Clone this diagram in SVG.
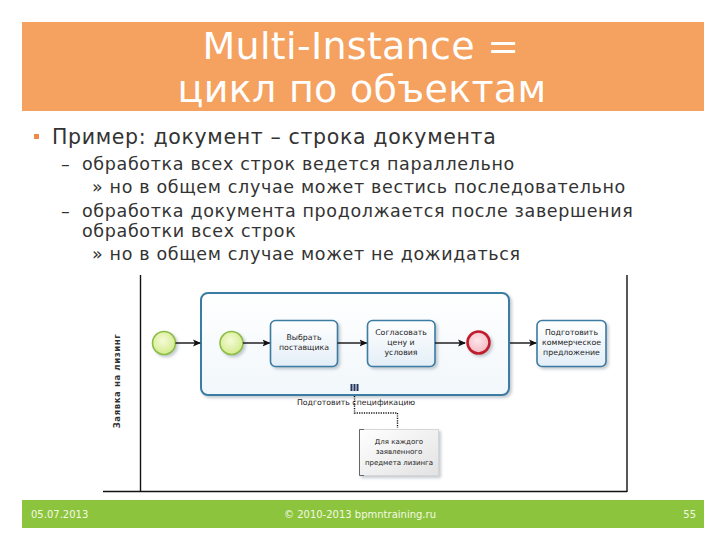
<svg xmlns="http://www.w3.org/2000/svg" width="720" height="540" viewBox="0 0 720 540">
<defs>
<linearGradient id="taskG" x1="0" y1="0" x2="0" y2="1"><stop offset="0" stop-color="#ffffff"/><stop offset="1" stop-color="#e4eef7"/></linearGradient>
<linearGradient id="subG" x1="0" y1="0" x2="0" y2="1"><stop offset="0" stop-color="#ffffff"/><stop offset="1" stop-color="#f1f7fb"/></linearGradient>
<radialGradient id="startG" cx="0.45" cy="0.4" r="0.6"><stop offset="0" stop-color="#f4fbd8"/><stop offset="1" stop-color="#d4eb8c"/></radialGradient>
<radialGradient id="endG" cx="0.45" cy="0.4" r="0.6"><stop offset="0" stop-color="#fde6ea"/><stop offset="1" stop-color="#f5b9c4"/></radialGradient>
<linearGradient id="annG" x1="0" y1="0" x2="1" y2="1"><stop offset="0" stop-color="#ffffff"/><stop offset="1" stop-color="#e2e2e2"/></linearGradient>
<filter id="sh" x="-20%" y="-20%" width="150%" height="150%"><feDropShadow dx="2" dy="2" stdDeviation="1.6" flood-color="#7a8a96" flood-opacity="0.45"/></filter>
<marker id="arr" markerWidth="8" markerHeight="8" refX="7" refY="4" orient="auto" markerUnits="userSpaceOnUse"><path d="M0,0.5 L8,4 L0,7.5 L1.8,4 Z" fill="#111"/></marker>
<style>
.title{font-family:"DejaVu Sans",Verdana,sans-serif;font-size:38px;fill:#ffffff;text-anchor:middle;letter-spacing:0.3px}
.b1{font-family:"DejaVu Sans",Verdana,sans-serif;font-size:20.5px;fill:#333333;letter-spacing:0.65px}
.b2{font-family:"DejaVu Sans",Verdana,sans-serif;font-size:17.5px;fill:#333333;letter-spacing:0.65px}
.foot{font-family:"DejaVu Sans",Verdana,sans-serif;font-size:10px;fill:#f4f9e4}
.tl{font-family:"DejaVu Sans",Tahoma,sans-serif;font-size:7.8px;fill:#222;text-anchor:middle}
.an{font-family:"DejaVu Sans",Tahoma,sans-serif;font-size:7px;fill:#222;text-anchor:middle}
.task{fill:url(#taskG);stroke:#3b7ba3;stroke-width:1.6}
.start{fill:url(#startG);stroke:#8dbd45;stroke-width:1.6}
.flow{fill:none;stroke:#111;stroke-width:1.4;marker-end:url(#arr)}
.pool{stroke:#111;stroke-width:1.4;fill:none}
</style>
</defs>
<rect x="0" y="0" width="720" height="540" fill="#ffffff"/>
<g id="header">
<rect x="22" y="22" width="682" height="89" fill="#f5a160"/>
<text class="title" x="361" y="59">Multi-Instance =</text>
<text class="title" x="362" y="102">цикл по объектам</text>
</g>
<g id="bullets">
<rect x="34" y="134" width="5" height="5" fill="#f08a4b"/>
<text class="b1" x="52" y="144">Пример: документ – строка документа</text>
<text class="b2" x="61" y="170">–</text>
<text class="b2" x="82" y="170">обработка всех строк ведется параллельно</text>
<text class="b2" x="92" y="193">» но в общем случае может вестись последовательно</text>
<text class="b2" x="61" y="217">–</text>
<text class="b2" x="82" y="217">обработка документа продолжается после завершения</text>
<text class="b2" x="82" y="237">обработки всех строк</text>
<text class="b2" x="92" y="260">» но в общем случае может не дожидаться</text>
</g>
<g id="pool">
<line class="pool" x1="140.5" y1="275" x2="140.5" y2="492"/>
<line class="pool" x1="627" y1="275" x2="627" y2="492"/>
<line class="pool" x1="103" y1="491.5" x2="627" y2="491.5"/>
<text transform="rotate(-90 120 381)" x="120" y="381" font-family="DejaVu Sans,Tahoma,sans-serif" font-size="8.5" font-weight="bold" fill="#333" text-anchor="middle" letter-spacing="0.6">Заявка на лизинг</text>
</g>
<g id="subprocess">
<rect x="201" y="293" width="308" height="102" rx="7" fill="url(#subG)" stroke="#3b7ba3" stroke-width="2" filter="url(#sh)"/>
<rect x="350.5" y="384" width="2" height="7" fill="#23365e"/>
<rect x="353.5" y="384" width="2" height="7" fill="#23365e"/>
<rect x="356.5" y="384" width="2" height="7" fill="#23365e"/>
<text class="tl" x="356" y="405">Подготовить спецификацию</text>
</g>
<g id="start-outer">
<circle class="start" cx="164" cy="343" r="11.5" filter="url(#sh)"/>
</g>
<g id="start-inner">
<circle class="start" cx="231.5" cy="343" r="11.5" filter="url(#sh)"/>
</g>
<g id="task-select">
<rect class="task" x="270.5" y="320.5" width="67" height="46" rx="5" filter="url(#sh)"/>
<text class="tl" x="304" y="340">Выбрать</text>
<text class="tl" x="304" y="350">поставщика</text>
</g>
<g id="task-agree">
<rect class="task" x="367.5" y="320.5" width="67.5" height="46" rx="5" filter="url(#sh)"/>
<text class="tl" x="401" y="335">Согласовать</text>
<text class="tl" x="401" y="345">цену и</text>
<text class="tl" x="401" y="355">условия</text>
</g>
<g id="end-inner">
<circle cx="478.5" cy="342.5" r="11" fill="url(#endG)" stroke="#c01f2f" stroke-width="2.6" filter="url(#sh)"/>
</g>
<g id="task-offer">
<rect class="task" x="537" y="320.5" width="69" height="46" rx="5" filter="url(#sh)"/>
<text class="tl" x="571.5" y="335">Подготовить</text>
<text class="tl" x="571.5" y="345">коммерческое</text>
<text class="tl" x="571.5" y="355">предложение</text>
</g>
<g id="annotation">
<rect x="359.5" y="429.5" width="79" height="46" fill="url(#annG)" stroke="#d6d6d6" stroke-width="1" filter="url(#sh)"/>
<path d="M364,429.5 L359.5,429.5 L359.5,475.5 L364,475.5" fill="none" stroke="#666" stroke-width="1"/>
<text class="an" x="399" y="444">Для каждого</text>
<text class="an" x="399" y="454">заявленного</text>
<text class="an" x="399" y="465">предмета лизинга</text>
</g>
<g id="connectors">
<line class="flow" x1="175.5" y1="343" x2="200" y2="343"/>
<line class="flow" x1="243" y1="343" x2="269.5" y2="343"/>
<line class="flow" x1="337.5" y1="343" x2="366.5" y2="343"/>
<line class="flow" x1="435" y1="343" x2="465" y2="343"/>
<line class="flow" x1="510" y1="343" x2="536" y2="343"/>
<path d="M354.5,396 L354.5,413 L397.5,413 L397.5,428" fill="none" stroke="#111" stroke-width="1.4" stroke-dasharray="1.2,1.2"/>
</g>
<g id="footer">
<rect x="22" y="500" width="682" height="28" fill="#8cc43e"/>
<text class="foot" x="31" y="518">05.07.2013</text>
<text class="foot" x="360" y="518" text-anchor="middle">© 2010-2013 bpmntraining.ru</text>
<text class="foot" x="696" y="518" text-anchor="end">55</text>
</g>
</svg>
